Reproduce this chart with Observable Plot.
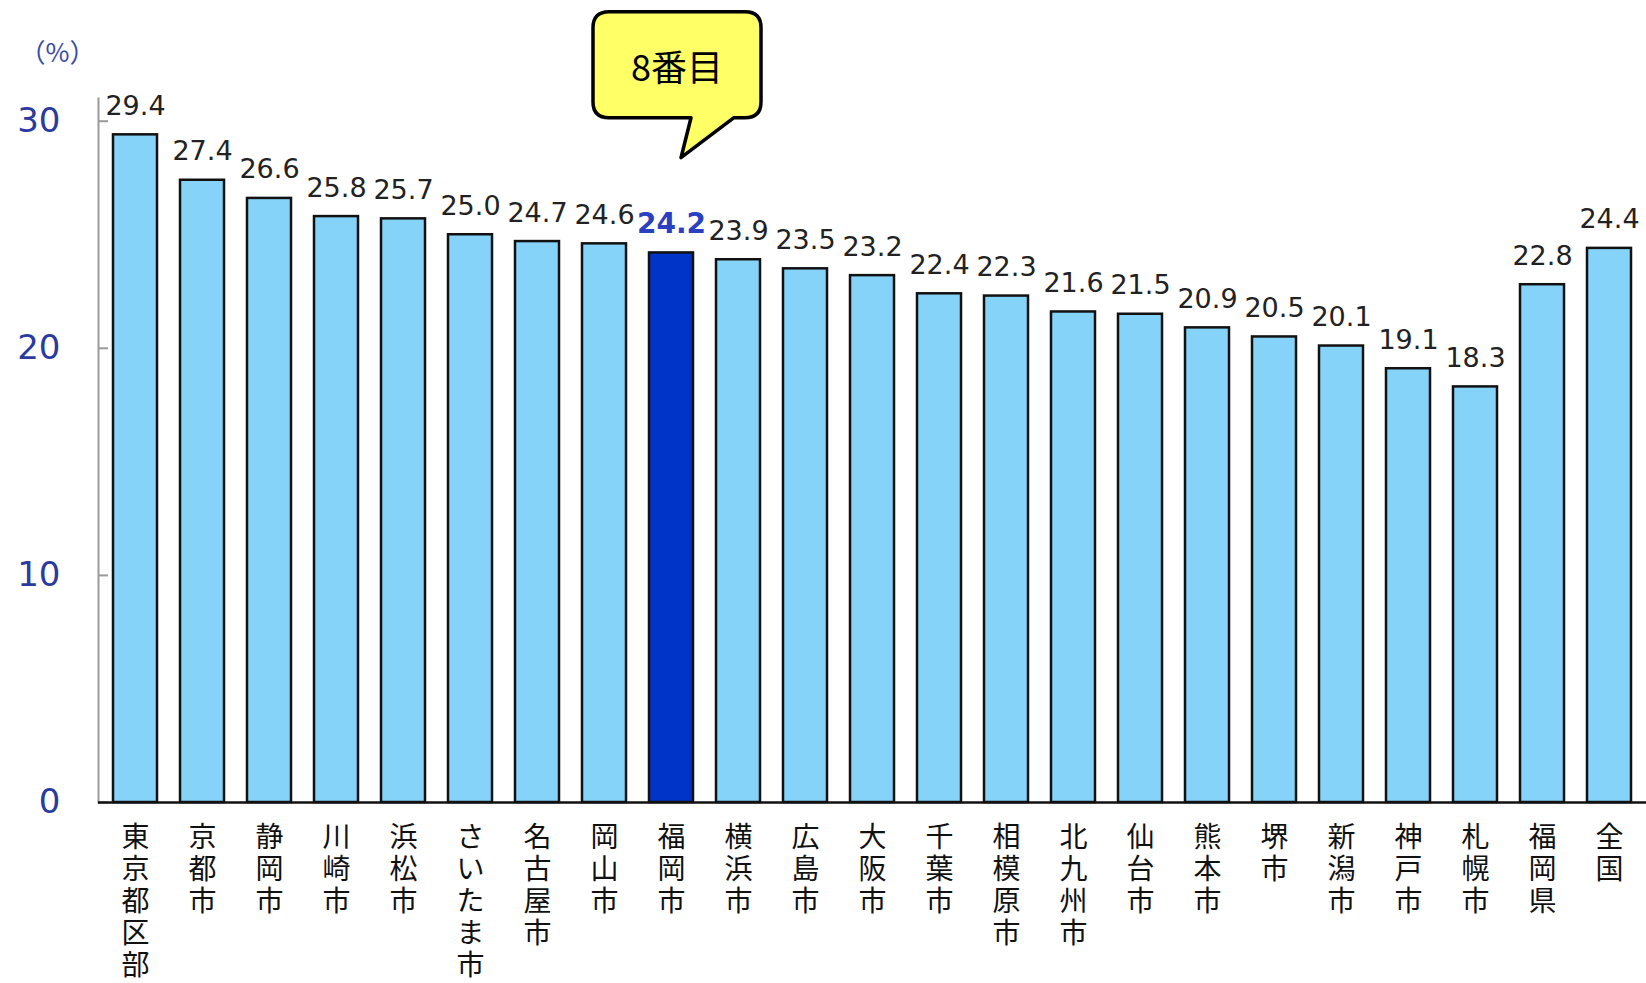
<!DOCTYPE html>
<html>
<head>
<meta charset="utf-8">
<script src="https://cdn.jsdelivr.net/npm/d3@7"></script>
<script src="https://cdn.jsdelivr.net/npm/@observablehq/plot@0.6"></script>
<style>
  html, body { margin: 0; padding: 0; background: #fff; }
</style>
</head>
<body>
<div id="chart"></div>
<script>
// ---- data ----
const categories = ["東京都区部", "京都市", "静岡市", "川崎市", "浜松市", "さいたま市", "名古屋市", "岡山市", "福岡市", "横浜市", "広島市", "大阪市", "千葉市", "相模原市", "北九州市", "仙台市", "熊本市", "堺市", "新潟市", "神戸市", "札幌市", "福岡県", "全国"];
const values = [29.4, 27.4, 26.6, 25.8, 25.7, 25.0, 24.7, 24.6, 24.2, 23.9, 23.5, 23.2, 22.4, 22.3, 21.6, 21.5, 20.9, 20.5, 20.1, 19.1, 18.3, 22.8, 24.4];
const yTicks = [0, 10, 20, 30];
const highlight = "福岡市";
const calloutText = "8番目";
const unitLabel = "（%）";

const data = categories.map((name, i) => ({name, value: values[i]}));
const normal = data.filter(d => d.name !== highlight);
const special = data.filter(d => d.name === highlight);

const jp = "'Noto Sans CJK JP', 'Noto Sans', sans-serif";
const num = "'DejaVu Sans', sans-serif";

const chart = Plot.plot({
  width: 1646,
  height: 983,
  marginLeft: 98,
  marginRight: 0,
  marginTop: 98,
  marginBottom: 181,
  style: {fontFamily: jp, background: "#fff", overflow: "visible"},
  x: {domain: categories, paddingInner: 0.35, paddingOuter: 0.175, label: null},
  y: {domain: [0, 31], label: null},
  marks: [
    Plot.frame({anchor: "left", stroke: "#9a9a9a", strokeWidth: 2}),
    Plot.axisY({ticks: yTicks, tickSize: -10, text: null, stroke: "#9a9a9a", strokeWidth: 2, label: null}),
    Plot.axisY({ticks: yTicks, tickSize: 0, tickPadding: 38, fontSize: 34, fill: "#2b3a9e", fontFamily: num, label: null}),
    Plot.barY(data, {
      x: "name", y: "value",
      fill: d => d.name === highlight ? "#0033c8" : "#86d3f9",
      stroke: "#111", strokeWidth: 2.5
    }),
    Plot.ruleY([0], {stroke: "#111", strokeWidth: 2.5}),
    Plot.text(normal, {x: "name", y: "value", text: d => d.value.toFixed(1), dy: -20, lineAnchor: "bottom", fontSize: 27, fill: "#222", fontFamily: num}),
    Plot.text(special, {x: "name", y: "value", text: d => d.value.toFixed(1), dy: -20, lineAnchor: "bottom", fontSize: 28, fontWeight: "bold", fill: "#2a40c0", fontFamily: num}),
    Plot.axisX({tickSize: 0, tickPadding: 22, fontSize: 28, lineHeight: 1.14, tickFormat: d => [...d].join("\n"), fill: "#111", label: null}),
    Plot.text([unitLabel], {text: d => d, frameAnchor: "top-left", textAnchor: "middle", dx: -41, dy: -55, fontSize: 26, fill: "#3a4aa8", fontFamily: jp})
  ]
});

document.getElementById("chart").append(chart);

// ---- callout anchored on the highlighted bar via the plot's scales ----
const sx = chart.scale("x");
const sy = chart.scale("y");
const cx = sx.apply(highlight) + sx.bandwidth / 2;
const y30 = sy.apply(30);
const L = cx - 78, R = cx + 90, T = y30 - 109, B = y30 - 3, r = 16;
const tipX = cx + 10, tipY = y30 + 37, baseL = cx + 20, baseR = cx + 63;
const p = `M${L + r},${T} H${R - r} Q${R},${T} ${R},${T + r} V${B - r} Q${R},${B} ${R - r},${B} H${baseR} L${tipX},${tipY} L${baseL},${B} H${L + r} Q${L},${B} ${L},${B - r} V${T + r} Q${L},${T} ${L + r},${T} Z`;
const svg = d3.select(chart);
const g = svg.append("g");
g.append("path").attr("d", p).attr("fill", "#ffff66").attr("stroke", "#000").attr("stroke-width", 3.5).attr("stroke-linejoin", "round");
g.append("text").attr("x", cx + 6).attr("y", (T + B) / 2).attr("text-anchor", "middle").attr("dominant-baseline", "central")
  .attr("font-size", 36).attr("font-family", jp).attr("fill", "#000").text(calloutText);
</script>
</body>
</html>
